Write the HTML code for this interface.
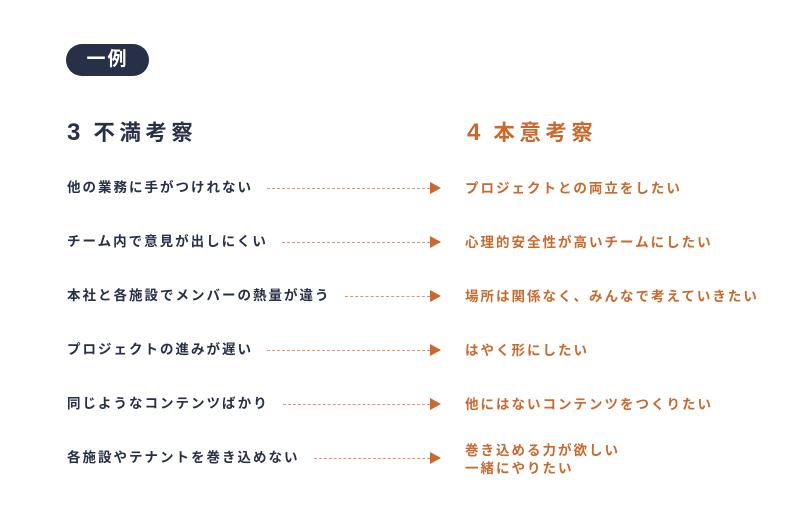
<!DOCTYPE html>
<html><head><meta charset="utf-8"><style>
body{margin:0;width:807px;height:511px;background:#fff;position:relative;font-family:"Liberation Sans","Noto Sans CJK JP",sans-serif;font-weight:bold;overflow:hidden}
.badge{position:absolute;left:66px;top:44px;width:83px;height:32px;border-radius:16px;background:#283047;color:#fff;font-size:19px;line-height:32px;text-align:center;letter-spacing:2px}
.h{position:absolute;top:119px;font-size:21.5px;line-height:28px;letter-spacing:4.5px}
.h span{font-size:24px;margin-right:-2px}
.l{position:absolute;left:67px;font-size:13.5px;letter-spacing:2px;color:#283047;line-height:16px;white-space:nowrap;display:flex;align-items:center}
.l i{display:block;border-top:1.5px dashed #dd956b;margin-left:14px;height:0}
.tri{position:absolute;left:430px;width:0;height:0;border-left:11px solid #c8692e;border-top:6px solid transparent;border-bottom:6px solid transparent}
.r{position:absolute;left:465px;font-size:13.5px;letter-spacing:2px;color:#c8692e;line-height:17px;white-space:nowrap}
</style></head><body>
<div class="badge">一例</div>
<div class="h" style="left:67px;color:#283047"><span>3</span> 不満考察</div>
<div class="h" style="left:467px;color:#c8692e"><span>4</span> 本意考察</div>

<div class="l" style="top:180px;width:363px">他の業務に手がつけれない<i style="flex:1"></i></div>
<div class="tri" style="top:182px"></div>
<div class="r" style="top:180px">プロジェクトとの両立をしたい</div>

<div class="l" style="top:234px;width:363px">チーム内で意見が出しにくい<i style="flex:1"></i></div>
<div class="tri" style="top:236px"></div>
<div class="r" style="top:234px">心理的安全性が高いチームにしたい</div>

<div class="l" style="top:288px;width:363px">本社と各施設でメンバーの熱量が違う<i style="flex:1"></i></div>
<div class="tri" style="top:290px"></div>
<div class="r" style="top:288px">場所は関係なく、みんなで考えていきたい</div>

<div class="l" style="top:342px;width:363px">プロジェクトの進みが遅い<i style="flex:1"></i></div>
<div class="tri" style="top:344px"></div>
<div class="r" style="top:342px">はやく形にしたい</div>

<div class="l" style="top:396px;width:363px">同じようなコンテンツばかり<i style="flex:1"></i></div>
<div class="tri" style="top:398px"></div>
<div class="r" style="top:396px">他にはないコンテンツをつくりたい</div>

<div class="l" style="top:450px;width:363px">各施設やテナントを巻き込めない<i style="flex:1"></i></div>
<div class="tri" style="top:452px"></div>
<div class="r" style="top:442px;line-height:18px">巻き込める力が欲しい<br>一緒にやりたい</div>
</body></html>
